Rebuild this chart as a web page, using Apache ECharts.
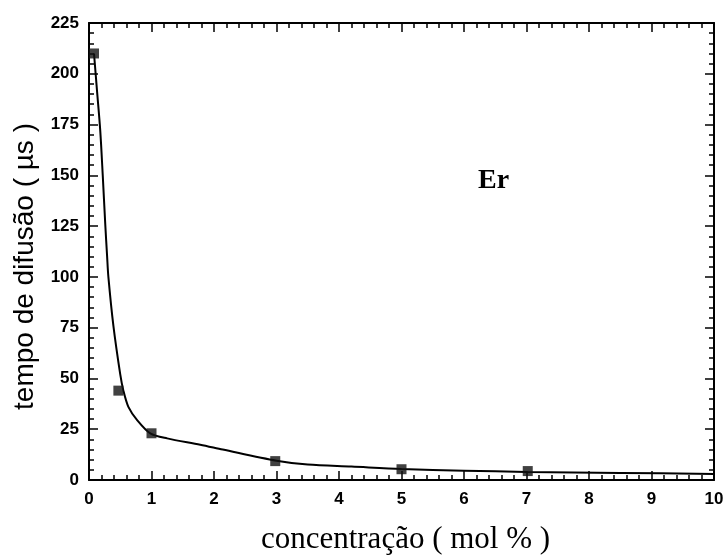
<!DOCTYPE html>
<html>
<head>
<meta charset="utf-8">
<script src="https://cdn.jsdelivr.net/npm/echarts@6/dist/echarts.min.js"></script>
<style>html,body{margin:0;padding:0;background:#fff}#c{width:728px;height:560px}</style>
</head>
<body>
<div id="c"></div>
<script>
// measured points
var concX = [0.08, 0.47, 1.0, 2.98, 5.0, 7.02];
var tempoY = [210, 44, 23, 9.3, 5.3, 4.4];
// fitted curve
var fitX = [0.08, 0.13, 0.18, 0.22, 0.26, 0.29, 0.31, 0.39, 0.5, 0.55, 0.63, 0.77, 0.98, 1.25, 1.78, 2.14, 3.0, 3.5, 4.2, 5.0, 6.0, 7.0, 8.5, 10];
var fitY = [210, 191, 172, 150, 126, 110, 100, 76, 52, 44, 36, 29.5, 23, 20.5, 17.4, 15, 9.5, 7.6, 6.6, 5.4, 4.6, 4.0, 3.5, 3.0];
var xTicks = [0,1,2,3,4,5,6,7,8,9,10];
var yTicks = [0,25,50,75,100,125,150,175,200,225];

var chart = echarts.init(document.getElementById('c'));
function pairs(a,b){return a.map(function(v,i){return [v,b[i]];});}
var axisLine = {show:true, onZero:false, lineStyle:{color:'#000', width:2}};
var tickStyle = {color:'#000', width:1.5};
var majorTick = {show:true, inside:true, length:9, lineStyle:tickStyle};
var minorTick = {show:true, splitNumber:5, length:5, lineStyle:tickStyle};
chart.setOption({
  animation:false,
  backgroundColor:'#fff',
  grid:{left:89, right:14, top:23, bottom:72, containLabel:false},
  xAxis:[{
    type:'value', position:'bottom', min:xTicks[0], max:xTicks[xTicks.length-1], interval:1,
    name:'concentração ( mol % )', nameLocation:'middle', nameGap:44,
    nameTextStyle:{fontFamily:'Liberation Serif', fontSize:31, color:'#000', padding:[0,0,0,8]},
    axisLine:axisLine, axisTick:majorTick, minorTick:minorTick,
    axisLabel:{fontFamily:'Liberation Sans', fontWeight:'bold', fontSize:17, color:'#000', margin:11},
    splitLine:{show:false}
  },{
    type:'value', position:'top', min:0, max:10, interval:1,
    axisLine:axisLine, axisTick:majorTick, minorTick:minorTick,
    axisLabel:{show:false}, splitLine:{show:false}
  }],
  yAxis:[{
    type:'value', position:'left', min:yTicks[0], max:yTicks[yTicks.length-1], interval:25,
    name:'tempo de difusão ( µs )', nameLocation:'middle', nameGap:48,
    nameTextStyle:{fontFamily:'Liberation Sans', fontSize:28, color:'#000', padding:[0,30,0,0]},
    axisLine:axisLine, axisTick:majorTick, minorTick:minorTick,
    axisLabel:{fontFamily:'Liberation Sans', fontWeight:'bold', fontSize:17, color:'#000', margin:10},
    splitLine:{show:false}
  },{
    type:'value', position:'right', min:0, max:225, interval:25,
    axisLine:axisLine, axisTick:majorTick, minorTick:minorTick,
    axisLabel:{show:false}, splitLine:{show:false}
  }],
  series:[{
    type:'line', data:pairs(fitX, fitY), smooth:0.3, showSymbol:false,
    lineStyle:{color:'#000', width:2}, z:2
  },{
    type:'scatter', data:pairs(concX, tempoY), symbol:'rect', symbolSize:10,
    itemStyle:{color:'#111'}, z:3
  }],
  graphic:[{
    type:'text', left:478, top:167,
    style:{text:'Er', fontFamily:'Liberation Serif', fontWeight:'bold', fontSize:28, fill:'#000'}
  }]
});
</script>
</body>
</html>
